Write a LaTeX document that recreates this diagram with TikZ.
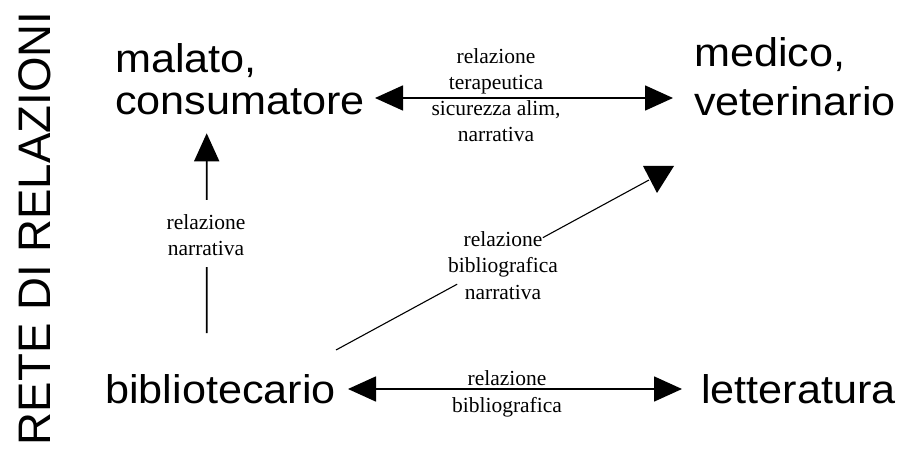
\documentclass[tikz,border=0pt]{standalone}
\usepackage{fontspec}
\setmainfont{Liberation Serif}
\newfontfamily\bigsans[FakeStretch=1.08]{Liberation Sans}
\newfontfamily\titlesans{Liberation Sans}
\usetikzlibrary{arrows.meta,calc}
\begin{document}
\begin{tikzpicture}[x=1pt,y=-1pt,
  bigL/.style={font=\bigsans\fontsize{40}{42}\selectfont, align=left, inner sep=0pt, anchor=base west},
  bigR/.style={font=\bigsans\fontsize{40}{49}\selectfont, align=left, inner sep=0pt, anchor=base west},
  lab/.style={font=\fontsize{21.5}{26.3}\selectfont, align=center, inner sep=0pt, anchor=base},
  conn/.style={line width=1.6pt, {Triangle[length=28pt,width=25pt]}-{Triangle[length=28pt,width=25pt]}},
  oneway/.style={line width=1.6pt, -{Triangle[length=28pt,width=25pt]}},
  plain/.style={line width=1.6pt},
  thin/.style={line width=1.1pt},
]
\useasboundingbox (0,0) rectangle (902,462);

% title
\node[rotate=90, anchor=base, inner sep=0pt,
      font=\titlesans\fontsize{45.6}{50}\selectfont] (title) at (50,228.5) {RETE DI RELAZIONI};

% main nodes (anchor = baseline of last line)
\node[bigL] (mc) at (115,115) {malato,\\consumatore};
\node[bigR] (mv) at (694,116) {medico,\\veterinario};
\node[bigL] (bib) at (105,403) {bibliotecario};
\node[bigL] (let) at (701,403) {letteratura};

% connector end points
\coordinate (t1) at (375,98);
\coordinate (t2) at (673,98);
\coordinate (b1) at (348,389);
\coordinate (b2) at (682,389);
\coordinate (v1) at (206.7,333);
\coordinate (v2) at (206.7,133.3);
\coordinate (d1) at (336,350);
\coordinate (d2) at (649,180);

% connectors
\draw[conn] (t1) -- (t2);
\draw[conn] (b1) -- (b2);
\draw[plain] (v1) -- ($(v1)!0.33!(v2)$);
\draw[oneway] ($(v1)!0.666!(v2)$) -- (v2);
\draw[thin] (d1) -- ($(d1)!0.387!(d2)$);
\draw[thin] ($(d1)!0.661!(d2)$) -- (d2);
\fill (643,166) -- (674,166) -- (657,193) -- cycle;

% labels (anchor = baseline of last line)
\node[lab] (lt) at (496,142) {relazione\\terapeutica\\sicurezza alim,\\narrativa};
\node[lab] (lv) at (206,256) {relazione\\narrativa};
\node[lab] (ld) at (503,299) {relazione\\bibliografica\\narrativa};
\node[lab] (lb) at (507,412) {relazione\\bibliografica};
\end{tikzpicture}
\end{document}
